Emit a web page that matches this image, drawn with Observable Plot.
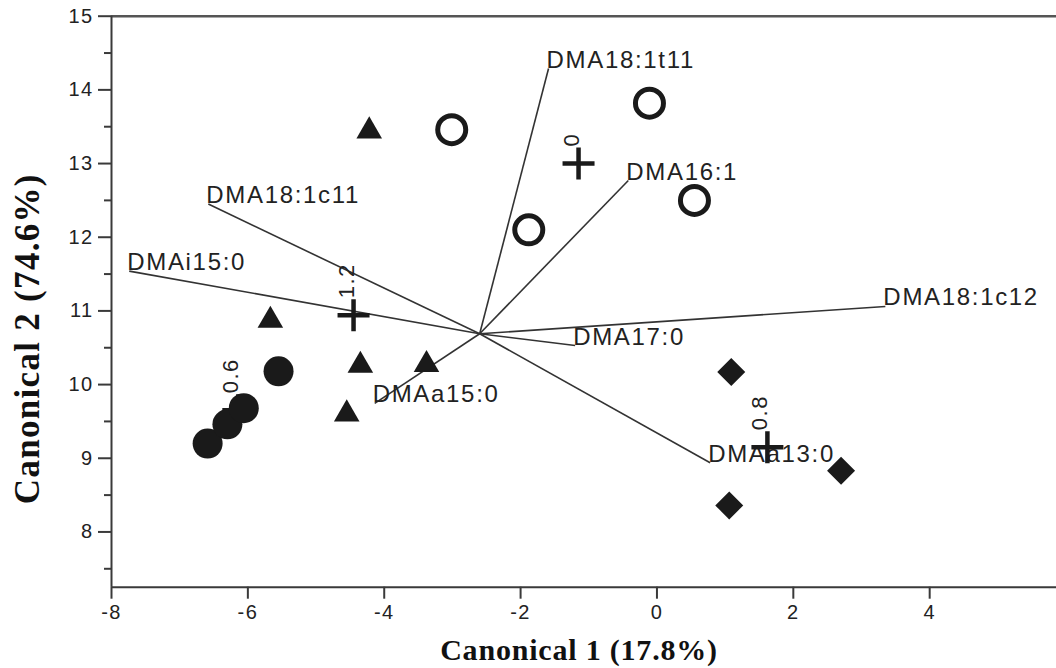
<!DOCTYPE html>
<html>
<head>
<meta charset="utf-8">
<script src="https://cdn.jsdelivr.net/npm/d3@7"></script>
<script src="https://cdn.jsdelivr.net/npm/@observablehq/plot@0.6"></script>
<style>
  html, body { margin: 0; padding: 0; background: #fff; }
  #chart svg text { letter-spacing: 0.07em; }
  #chart svg [aria-label$="tick label"] { font-size: 20px; }
</style>
</head>
<body>
<div id="chart"></div>
<script>
// ---- axis ticks ----
const xTicks = [-8, -6, -4, -2, 0, 2, 4];
const yTicks = [8, 9, 10, 11, 12, 13, 14, 15];
const yMinorTicks = [7.5, 8.5, 9.5, 10.5, 11.5, 12.5, 13.5, 14.5];
const xTitle = "Canonical 1 (17.8%)";
const yTitle = "Canonical 2 (74.6%)";

// ---- biplot vectors (origin + endpoints) ----
const originX = -2.60;
const originY = 10.69;
const vectorNames = ["DMA18:1t11", "DMA16:1", "DMA18:1c11", "DMAi15:0", "DMA18:1c12", "DMA17:0", "DMAa15:0", "DMAa13:0"];
const vectorX = [-1.59, -0.42, -6.58, -7.74, 3.35, -1.20, -4.14, 0.78];
const vectorY = [14.29, 12.77, 12.45, 11.54, 11.06, 10.53, 9.745, 8.94];

// ---- group centroids ----
const centroidLabels = ["0", "1.2", "0.6", "0.8"];
const centroidX = [-1.15, -4.45, -6.14, 1.62];
const centroidY = [13.00, 10.94, 9.65, 9.15];

// ---- observations by group ----
const filledCircleX = [-6.59, -6.30, -6.06, -5.55];
const filledCircleY = [9.20, 9.46, 9.68, 10.18];
const triangleX = [-4.22, -5.67, -4.35, -3.38, -4.55];
const triangleY = [13.44, 10.87, 10.26, 10.27, 9.60];
const openCircleX = [-3.01, -0.11, -1.88, 0.55];
const openCircleY = [13.46, 13.82, 12.10, 12.50];
const diamondX = [1.09, 1.06, 2.70];
const diamondY = [10.17, 8.36, 8.83];

// ---- tables built from the arrays ----
const vectors = vectorNames.map((name, i) => ({name, x: vectorX[i], y: vectorY[i]}));
const centroids = centroidLabels.map((label, i) => ({label, x: centroidX[i], y: centroidY[i]}));
const pts = (xs, ys) => xs.map((x, i) => ({x, y: ys[i]}));
const filledCircles = pts(filledCircleX, filledCircleY);
const triangles = pts(triangleX, triangleY);
const openCircles = pts(openCircleX, openCircleY);
const diamonds = pts(diamondX, diamondY);

// custom symbols
const plusSymbol = {
  draw(ctx, size) {
    const r = Math.sqrt(size / Math.PI);
    ctx.moveTo(-r, 0); ctx.lineTo(r, 0);
    ctx.moveTo(0, -r); ctx.lineTo(0, r);
  }
};
const diamondSymbol = {
  draw(ctx, size) {
    const r = Math.sqrt(size / Math.PI);
    ctx.moveTo(0, -r); ctx.lineTo(r, 0); ctx.lineTo(0, r); ctx.lineTo(-r, 0); ctx.closePath();
  }
};

const ink = "#1a1a1a";
const axisInk = "#3a3a3a";
const serif = "'Liberation Serif', 'Times New Roman', serif";

const chart = Plot.plot({
  width: 1056,
  height: 668,
  marginLeft: 111,
  marginRight: 0,
  marginTop: 15.7,
  marginBottom: 81.3,
  style: {fontFamily: "'Liberation Sans', Arial, Helvetica, sans-serif", fontSize: "20px", color: "#222", background: "#fff"},
  x: {domain: [-8, 5.86]},
  y: {domain: [7.25, 15]},
  marks: [
    Plot.ruleY([15], {stroke: "#555", strokeWidth: 2.5}),
    Plot.ruleX([-8], {stroke: axisInk, strokeWidth: 2}),
    Plot.ruleY([7.25], {stroke: axisInk, strokeWidth: 2}),
    Plot.axisX({ticks: xTicks, tickSize: 12, tickPadding: 6, tickFormat: d => String(d), label: null, stroke: axisInk, strokeWidth: 2, fontSize: 20, fill: "#222"}),
    Plot.axisY({ticks: yTicks, tickSize: 13, tickPadding: 5, tickFormat: d => String(d), label: null, stroke: axisInk, strokeWidth: 2, fontSize: 20, fill: "#222"}),
    Plot.axisY({ticks: yMinorTicks, tickSize: 7, tickFormat: () => "", label: null, stroke: axisInk, strokeWidth: 2}),
    // vectors
    Plot.link(vectors, {x1: () => originX, y1: () => originY, x2: "x", y2: "y", stroke: "#333", strokeWidth: 1.6}),
    Plot.text(vectors, {x: "x", y: "y", text: "name", textAnchor: "start", lineAnchor: "bottom", dx: -2, dy: -1, fontSize: 24, fill: "#222"}),
    // centroids
    Plot.dot(centroids, {x: "x", y: "y", symbol: plusSymbol, r: 16, stroke: ink, strokeWidth: 4.5, fill: "none"}),
    Plot.text(centroids, {x: "x", y: "y", text: "label", rotate: -90, textAnchor: "start", dx: -7, dy: -17, fontSize: 22, fill: "#222"}),
    // groups
    Plot.dot(triangles, {x: "x", y: "y", symbol: "triangle", r: 9.5, fill: ink, stroke: "none"}),
    Plot.dot(openCircles, {x: "x", y: "y", symbol: "circle", r: 14, fill: "none", stroke: ink, strokeWidth: 5}),
    Plot.dot(diamonds, {x: "x", y: "y", symbol: diamondSymbol, r: 14, fill: ink, stroke: "none"}),
    Plot.dot(filledCircles, {x: "x", y: "y", symbol: "circle", r: 15, fill: ink, stroke: "none"}),
    // axis titles
    Plot.text([xTitle], {text: d => d, frameAnchor: "bottom", textAnchor: "middle", lineAnchor: "bottom", dx: -5, dy: 73, fontSize: 30, fontWeight: "bold", fontFamily: serif, fill: "#111"}),
    Plot.text([yTitle], {text: d => d, frameAnchor: "left", textAnchor: "middle", lineAnchor: "middle", rotate: -90, dx: -84, dy: 37, fontSize: 35, fontWeight: "bold", fontFamily: serif, fill: "#111"})
  ]
});

d3.select(chart).selectAll("text")
  .filter(function () { return this.textContent === xTitle; })
  .style("letter-spacing", "0.8px");
d3.select(chart).selectAll("text")
  .filter(function () { return this.textContent === yTitle; })
  .style("letter-spacing", "1.3px");

document.getElementById("chart").appendChild(chart);
</script>
</body>
</html>
